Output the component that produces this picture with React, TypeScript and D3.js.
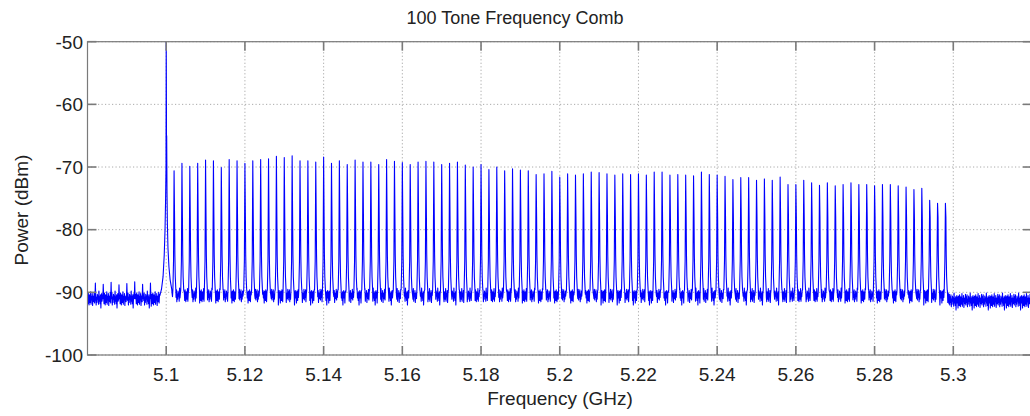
import React from "react";
import * as d3 from "d3";

// ---- data ----
const xDomain = [5.08, 5.32];
const yDomain = [-100, -50];
const xTicks = [5.1, 5.12, 5.14, 5.16, 5.18, 5.2, 5.22, 5.24, 5.26, 5.28, 5.3];
const xTickLabels = ["5.1", "5.12", "5.14", "5.16", "5.18", "5.2", "5.22", "5.24", "5.26", "5.28", "5.3"];
const yTicks = [-50, -60, -70, -80, -90, -100];

const toneStart = 5.1;
const toneStep = 0.002;
// peak power of each of the 100 comb tones (dBm)
const tonePeaks = [
  -50, -70.6, -69.4, -69.9, -69.4, -68.9, -69.0, -70.1, -68.8, -69.0,
  -69.4, -69.0, -68.8, -68.7, -68.3, -68.5, -68.2, -69.0, -69.0, -69.2,
  -68.4, -69.4, -69.0, -69.6, -68.9, -69.2, -69.2, -69.6, -68.8, -69.1,
  -69.3, -69.6, -69.2, -69.1, -69.2, -69.6, -69.4, -69.2, -69.7, -70.0,
  -69.6, -70.4, -70.0, -70.6, -70.3, -70.5, -70.6, -71.2, -71.1, -70.7,
  -71.6, -71.1, -71.3, -71.1, -70.8, -70.9, -71.1, -71.3, -71.1, -71.2,
  -71.1, -71.3, -70.8, -70.8, -71.3, -71.2, -71.3, -71.4, -70.8, -71.2,
  -71.3, -71.5, -72.0, -71.7, -71.7, -72.1, -71.9, -72.1, -71.6, -72.8,
  -72.8, -72.1, -72.5, -72.9, -72.5, -73.0, -72.8, -72.5, -72.8, -72.8,
  -73.0, -72.8, -72.8, -73.0, -73.2, -73.6, -73.4, -75.3, -75.8, -75.8,
];
// small leakage tones below the comb
const preToneFreqs = [5.082, 5.084, 5.086, 5.088, 5.09, 5.092, 5.094, 5.096];
const preTonePeaks = [-88.5, -88.7, -88.4, -88.8, -88.6, -88.3, -88.7, -88.5];

// first (strong) tone profile: offset from 5.1 GHz and level
const mainToneOffsets = [-0.0016, -0.0012, -0.0008, -0.0005, -0.0003, -0.00015, -0.00005, 0, 0.00004, 0.00008, 0.00012, 0.0002, 0.0003, 0.00045, 0.0007, 0.001, 0.0014];
const mainToneLevels = [-90.5, -89.5, -87.5, -84, -80, -75, -70, -50, -56, -68, -65, -74, -79, -83, -86, -88, -89.5];
// generic tone profile (peak inserted at offset 0)
const toneOffsets = [-0.0003, -0.00014, 0, 0.00012, 0.0002, 0.0003, 0.00045];
const toneLevels = [-89.6, -85, NaN, -78, -84, -87.5, -89.6];

// noise floor
const floorStep = 0.0001;
const floorPre = -91.0;
const floorComb = -90.5;
const floorPost = -91.3;
const floorNoise = [
  0.5, -0.8, 0.9, -0.3, -1.0, 0.6, 0.1, -0.6, 1.1, -0.9, 0.3, -0.2, 0.8, -1.1,
  0.4, 0.0, -0.5, 1.0, -0.7, 0.6, -0.3, 0.9, -1.0, 0.2, -0.6, 0.7, -0.1, 0.4,
  -0.9, 1.2, -0.4, 0.3, -0.8, 0.6, -1.5, 0.2, 0.8, -0.4, 0.5, -1.2, 0.7,
];

// ---- layout ----
const W = 1030;
const H = 416;
const M = { left: 87.5, right: 1032, top: 41.7, bottom: 355 };
const FONT = "'Liberation Sans', Arial, Helvetica, sans-serif";

function buildSpectrum(): [number, number][] {
  const pts: [number, number][] = [];
  type Tone = { f: number; offs: number[]; lv: number[] };
  const tones: Tone[] = [];
  preToneFreqs.forEach((f, i) => {
    tones.push({ f, offs: [-0.0001, 0, 0.00004, 0.00012], lv: [floorPre, preTonePeaks[i], -89.5, floorPre] });
  });
  tonePeaks.forEach((p, k) => {
    const f = toneStart + k * toneStep;
    if (k === 0) tones.push({ f, offs: mainToneOffsets, lv: mainToneLevels });
    else tones.push({ f, offs: toneOffsets, lv: toneLevels.map((v) => (isNaN(v) ? p : v)) });
  });
  const lastTone = toneStart + (tonePeaks.length - 1) * toneStep;
  const n = Math.round((xDomain[1] - xDomain[0]) / floorStep);
  let ti = 0;
  for (let i = 0; i <= n; i++) {
    const f = xDomain[0] + i * floorStep;
    while (ti < tones.length && f >= tones[ti].f + tones[ti].offs[0]) {
      const t = tones[ti];
      t.offs.forEach((o, j) => pts.push([t.f + o, t.lv[j]]));
      ti++;
    }
    const prev = ti > 0 ? tones[ti - 1] : null;
    if (prev && f <= prev.f + prev.offs[prev.offs.length - 1]) continue;
    const base = f < toneStart - 0.0015 ? floorPre : f > lastTone + 0.0008 ? floorPost : floorComb;
    pts.push([f, base + floorNoise[i % floorNoise.length]]);
  }
  return pts;
}

export default function App() {
  const x = d3.scaleLinear().domain(xDomain).range([M.left, M.right]);
  const y = d3.scaleLinear().domain(yDomain).range([M.bottom, M.top]);
  const data = buildSpectrum();
  const line = d3
    .line<[number, number]>()
    .x((d) => x(d[0]))
    .y((d) => y(d[1]));
  const axisColor = "#7a7a7a";
  const gridColor = "#a0a0a0";
  const textColor = "#222";
  const tickLen = 9;

  return (
    <svg width={W} height={H} style={{ position: "absolute", left: 0, top: 0, background: "#fff" }}>
      <defs>
        <clipPath id="plot">
          <rect x={M.left} y={M.top} width={M.right - M.left} height={M.bottom - M.top} />
        </clipPath>
      </defs>
      {/* grid */}
      <g stroke={gridColor} strokeWidth={0.9} strokeDasharray="1.2,2.3">
        {xTicks.map((t) => (
          <line key={"gx" + t} x1={x(t)} x2={x(t)} y1={M.top} y2={M.bottom} />
        ))}
        {yTicks.map((t) => (
          <line key={"gy" + t} x1={M.left} x2={M.right} y1={y(t)} y2={y(t)} />
        ))}
      </g>
      {/* spectrum */}
      <path d={line(data) || ""} fill="none" stroke="#0000ff" strokeWidth={1.1} strokeLinejoin="round" clipPath="url(#plot)" />
      {/* box */}
      <rect x={M.left} y={M.top} width={M.right - M.left} height={M.bottom - M.top} fill="none" stroke={axisColor} strokeWidth={1.2} />
      {/* ticks */}
      <g stroke={axisColor} strokeWidth={1.6}>
        {xTicks.map((t) => (
          <g key={"tx" + t}>
            <line x1={x(t)} x2={x(t)} y1={M.bottom} y2={M.bottom - tickLen} />
            <line x1={x(t)} x2={x(t)} y1={M.top} y2={M.top + tickLen} />
          </g>
        ))}
        {yTicks.map((t) => (
          <g key={"ty" + t}>
            <line x1={M.left} x2={M.left + tickLen} y1={y(t)} y2={y(t)} />
            <line x1={M.right} x2={M.right - tickLen} y1={y(t)} y2={y(t)} />
          </g>
        ))}
      </g>
      {/* tick labels */}
      <g fontFamily={FONT} fontSize={19} fill={textColor}>
        {xTicks.map((t, i) => (
          <text key={"lx" + t} x={x(t)} y={380.5} textAnchor="middle">
            {xTickLabels[i]}
          </text>
        ))}
        {yTicks.map((t) => (
          <text key={"ly" + t} x={83} y={y(t) + 6.8} textAnchor="end">
            {String(t)}
          </text>
        ))}
      </g>
      {/* titles */}
      <text x={515} y={24} textAnchor="middle" fontFamily={FONT} fontSize={18} fill={textColor}>
        100 Tone Frequency Comb
      </text>
      <text x={560} y={405} textAnchor="middle" fontFamily={FONT} fontSize={19} fill={textColor}>
        Frequency (GHz)
      </text>
      <text
        transform={`translate(28, 210) rotate(-90)`}
        textAnchor="middle"
        fontFamily={FONT}
        fontSize={19}
        fill={textColor}
      >
        Power (dBm)
      </text>
    </svg>
  );
}
